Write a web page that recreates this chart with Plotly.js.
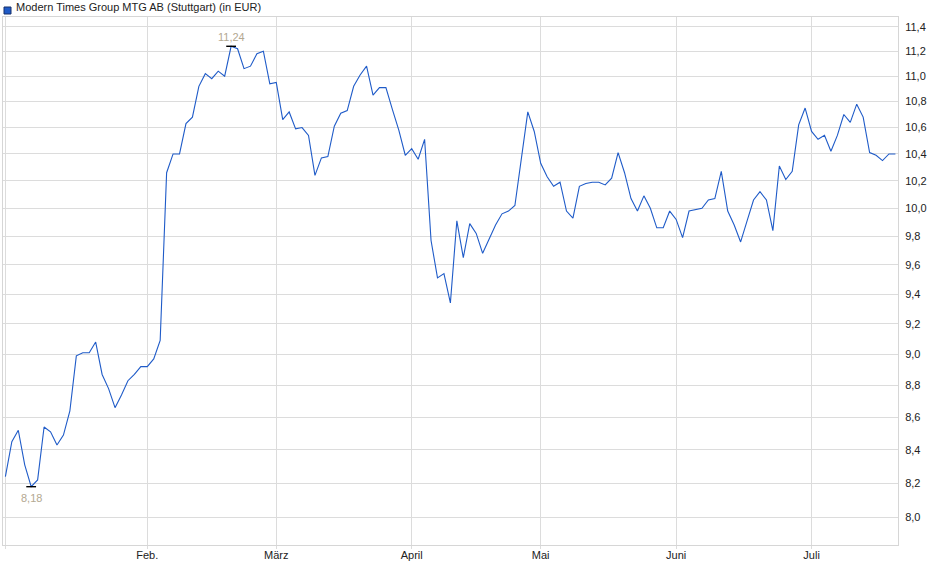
<!DOCTYPE html>
<html>
<head>
<meta charset="utf-8">
<script src="https://cdn.plot.ly/plotly-3.0.1.min.js"></script>
<style>
  html, body { margin: 0; padding: 0; background: #fff; }
  #chart { width: 940px; height: 579px; }
</style>
</head>
<body>
<div id="chart"></div>
<script>
// closing prices, one per trading day, 2 Jan 2025 - 18 Jul 2025
var prices = [
  8.24, 8.45, 8.52, 8.31, 8.18, 8.22, 8.54, 8.51, 8.43, 8.49,
  8.64, 8.99, 9.01, 9.01, 9.08, 8.87, 8.78, 8.66, 8.74, 8.83,
  8.87, 8.92, 8.92, 8.97, 9.09, 10.26, 10.40, 10.40, 10.63, 10.68,
  10.92, 11.02, 10.98, 11.04, 11.00, 11.24, 11.22, 11.06, 11.08, 11.18,
  11.20, 10.94, 10.95, 10.66, 10.72, 10.59, 10.60, 10.54, 10.24, 10.37,
  10.38, 10.61, 10.71, 10.73, 10.92, 11.01, 11.08, 10.85, 10.91, 10.91,
  10.74, 10.58, 10.39, 10.44, 10.36, 10.51, 9.77, 9.51, 9.54, 9.34,
  9.91, 9.65, 9.89, 9.82, 9.68, 9.78, 9.88, 9.96, 9.98, 10.02,
  10.35, 10.72, 10.57, 10.33, 10.23, 10.16, 10.19, 9.98, 9.93, 10.16,
  10.18, 10.19, 10.19, 10.17, 10.22, 10.41, 10.26, 10.07, 9.98, 10.09,
  10.00, 9.86, 9.86, 9.98, 9.92, 9.79, 9.98, 9.99, 10.00, 10.06,
  10.07, 10.27, 9.98, 9.88, 9.76, 9.91, 10.06, 10.12, 10.06, 9.84,
  10.31, 10.21, 10.27, 10.62, 10.75, 10.57, 10.51, 10.54, 10.42, 10.54,
  10.70, 10.64, 10.78, 10.68, 10.41, 10.39, 10.35, 10.40, 10.40
];

var startDate = '2025-01-02';
var holidays = ['2025-04-18', '2025-04-21', '2025-05-01'];

var monthTicks = ['2025-01-02', '2025-02-03', '2025-03-03', '2025-04-01', '2025-05-02', '2025-06-02', '2025-07-01'];
var monthLabels = ['', 'Feb.', 'März', 'April', 'Mai', 'Juni', 'Juli'];

var priceTicks = [8.0, 8.2, 8.4, 8.6, 8.8, 9.0, 9.2, 9.4, 9.6, 9.8, 10.0, 10.2, 10.4, 10.6, 10.8, 11.0, 11.2, 11.4];

var seriesName = 'Modern Times Group MTG AB (Stuttgart) (in EUR)';

// trading days (weekends and exchange holidays skipped)
var dates = [];
var d = new Date(startDate + 'T12:00:00Z');
while (dates.length < prices.length) {
  var s = d.toISOString().slice(0, 10);
  var wd = d.getUTCDay();
  if (wd != 0 && wd != 6 && holidays.indexOf(s) < 0) dates.push(s);
  d.setUTCDate(d.getUTCDate() + 1);
}

var hi = Math.max.apply(null, prices);
var lo = Math.min.apply(null, prices);
var hiIdx = prices.indexOf(hi);
var loIdx = prices.indexOf(lo);

function fmt(v) { return v.toFixed(2).replace('.', ','); }

var line = {
  x: dates,
  y: prices,
  type: 'scatter',
  mode: 'lines',
  line: { color: '#1f5bc8', width: 1.1 },
  hoverinfo: 'x+y',
  showlegend: false
};

var extremes = {
  x: [dates[hiIdx], dates[loIdx]],
  y: [hi, lo],
  type: 'scatter',
  mode: 'markers',
  marker: { symbol: 'line-ew', size: 7, line: { color: '#000', width: 1.4 } },
  hoverinfo: 'skip',
  showlegend: false
};

var labelFont = { family: 'Liberation Sans, Arial, sans-serif', size: 11, color: '#b3a891' };

var layout = {
  width: 940,
  height: 579,
  margin: { l: 3, r: 42, t: 17, b: 34 },
  paper_bgcolor: '#fff',
  plot_bgcolor: '#fff',
  separators: ',.',
  font: { family: 'Liberation Sans, Arial, sans-serif', size: 11, color: '#222' },
  title: {
    text: seriesName,
    xref: 'paper', x: 13 / 895, xanchor: 'left',
    yref: 'container', y: 1 - 7 / 579, yanchor: 'middle',
    font: { family: 'Liberation Sans, Arial, sans-serif', size: 11, color: '#222' }
  },
  xaxis: {
    type: 'category',
    range: [-0.37, dates.length - 0.6],
    tickmode: 'array',
    tickvals: monthTicks,
    ticktext: monthLabels,
    tickangle: 0,
    ticks: 'outside',
    ticklen: 3,
    tickcolor: '#dcdcdc',
    ticklabelstandoff: -3,
    showgrid: true,
    gridcolor: '#dcdcdc',
    gridwidth: 1,
    showline: true,
    mirror: true,
    linecolor: '#d6d6d6',
    linewidth: 1,
    zeroline: false,
    fixedrange: true
  },
  yaxis: {
    type: 'log',
    side: 'right',
    range: [Math.log10(7.843), Math.log10(11.48)],
    tickmode: 'array',
    tickvals: priceTicks,
    tickformat: '.1f',
    ticks: '',
    ticklabelstandoff: 4,
    showgrid: true,
    gridcolor: '#dcdcdc',
    gridwidth: 1,
    showline: true,
    mirror: true,
    linecolor: '#d6d6d6',
    linewidth: 1,
    zeroline: false,
    fixedrange: true
  },
  shapes: [{
    type: 'rect',
    xref: 'paper', yref: 'paper',
    x0: 1 / 895, x1: 8 / 895,
    y0: 1 + 3 / 528, y1: 1 + 10 / 528,
    fillcolor: '#1f5bc8',
    line: { color: '#17306b', width: 1 }
  }],
  annotations: [
    {
      x: dates[hiIdx], y: Math.log10(hi),
      text: fmt(hi), showarrow: false,
      yshift: 9, font: labelFont
    },
    {
      x: dates[loIdx], y: Math.log10(lo),
      text: fmt(lo), showarrow: false,
      yshift: -11, font: labelFont
    }
  ]
};

Plotly.newPlot(document.getElementById('chart'), [line, extremes], layout, { displayModeBar: false, staticPlot: true });
</script>
</body>
</html>
